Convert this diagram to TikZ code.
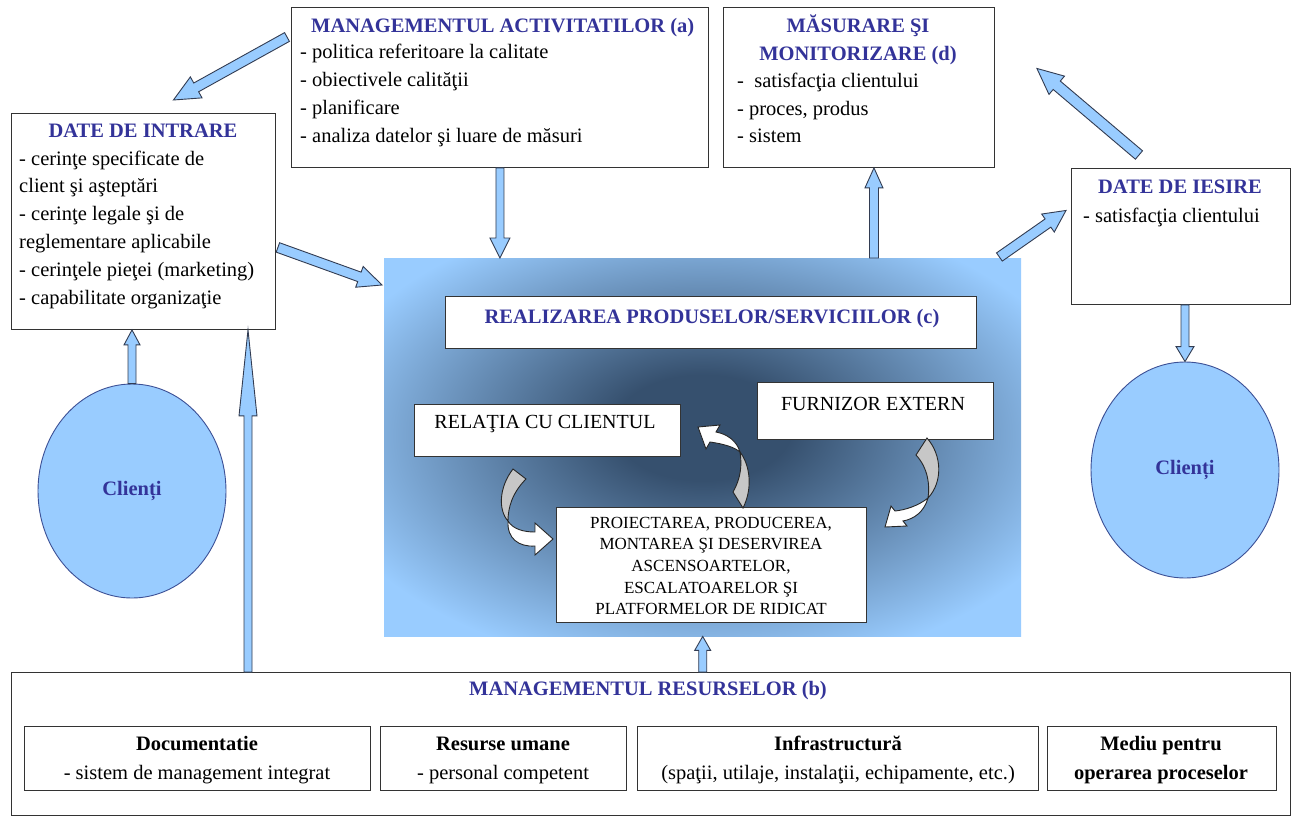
\documentclass[tikz,border=0pt]{standalone}
\usepackage{fontspec}
\setmainfont{Liberation Serif}
\usetikzlibrary{calc,shapes.geometric}

\definecolor{ttl}{RGB}{51,51,153}
\definecolor{skyfill}{RGB}{153,204,255}
\definecolor{arrline}{RGB}{50,60,82}
\definecolor{rdark}{RGB}{54,80,110}
\definecolor{rlight}{RGB}{153,204,255}
\definecolor{ellline}{RGB}{60,80,150}

\pgfdeclareradialshading{regionglow}{\pgfpoint{0bp}{3bp}}{color(0bp)=(rdark); color(7bp)=(rdark); color(31bp)=(rlight); color(50bp)=(rlight)}

\newcommand{\fb}{\fontsize{20.5}{24}\selectfont}
\newcommand{\ft}{\fontsize{20.5}{24}\selectfont\bfseries}
\newcommand{\fsm}{\fontsize{17}{21.7}\selectfont}

% rectangle node by its top-left corner and size
\newcommand{\boxat}[5]{\node[box, minimum width=#4pt, minimum height=#5pt] (#1) at (#2,#3) {};}

% block arrow: start, end, shaft half width, head half width, head length
\newcommand{\blockarrow}[5]{%
  \path ($(#2)!#5!(#1)$) coordinate (hb);
  \filldraw[blockarr] ($(#1)!#3!90:(#2)$) -- ($(hb)!#3!90:(#2)$) -- ($(hb)!#4!90:(#2)$) -- (#2)
    -- ($(hb)!#4!-90:(#2)$) -- ($(hb)!#3!-90:(#2)$) -- ($(#1)!#3!-90:(#2)$) -- cycle;}

\begin{document}
\begin{tikzpicture}[x=1pt,y=-1pt,
  box/.style={draw=black!80, line width=0.9pt, fill=white, inner sep=0pt, anchor=north west},
  blockarr/.style={fill=skyfill, draw=arrline, line width=0.9pt, line join=miter},
  cgray/.style={fill=black!22, draw=black!85, line width=0.9pt},
  cwhite/.style={fill=white, draw=black!85, line width=0.9pt},
  txt/.style={inner sep=0pt, font=\fb},
  ttlsty/.style={inner sep=0pt, font=\ft, text=ttl},
  hd/.style={inner sep=0pt, font=\ft}]

\useasboundingbox (0,0) rectangle (1297,816);
\fill[white] (0,0) rectangle (1297,816);

% central realisation area
\node[shading=regionglow, minimum width=637pt, minimum height=378pt, inner sep=0pt, anchor=north west] (region) at (384,258) {};

% boxes
\boxat{boxA}{291}{7}{417}{160}
\boxat{boxD}{723}{7}{271}{160}
\boxat{boxIn}{11}{113}{264}{216}
\boxat{boxOut}{1071}{168}{219}{136}
\boxat{boxC}{445}{296}{531}{52}
\boxat{boxRel}{414}{404}{266}{52}
\boxat{boxFur}{757}{382}{236}{57}
\boxat{boxP}{556}{507}{310}{115}
\boxat{boxB}{11}{672}{1279}{143}
\boxat{bDoc}{24}{726}{346}{64}
\boxat{bRes}{380}{726}{246}{64}
\boxat{bInf}{637}{726}{401}{64}
\boxat{bMed}{1047}{726}{229}{64}

% clients
\node[ellipse, draw=ellline, line width=0.9pt, fill=skyfill, minimum width=188pt, minimum height=214pt, inner sep=0pt, font=\ft, text=ttl] (clL) at (132,491) {Clienți};
\node[ellipse, draw=ellline, line width=0.9pt, fill=skyfill, minimum width=188pt, minimum height=216pt, inner sep=0pt, font=\ft, text=ttl] (clR) at (1185,470) {Clienți};

% activity management
\node[ttlsty, anchor=mid west] (tA) at (311,30) {MANAGEMENTUL ACTIVITATILOR (a)};
\foreach \itm [count=\i] in {{- politica referitoare la calitate},{- obiectivele calităţii},{- planificare},{- analiza datelor şi luare de măsuri}}
  \node[txt, anchor=mid west] (ia\i) at (300,{28+28*\i}) {\itm};

% measurement and monitoring
\node[ttlsty, anchor=mid] (tD1) at (858,30) {MĂSURARE ŞI};
\node[ttlsty, anchor=mid] (tD2) at (858,58) {MONITORIZARE (d)};
\foreach \itm [count=\i] in {{-\ \ satisfacţia clientului},{- proces, produs},{- sistem}}
  \node[txt, anchor=mid west] (id\i) at (737,{58+27.5*\i}) {\itm};

% inputs
\node[ttlsty, anchor=mid] (tIn) at (143,135) {DATE DE INTRARE};
\foreach \itm [count=\i] in {{- cerinţe specificate de},{client şi aşteptări},{- cerinţe legale şi de},{reglementare aplicabile},{- cerinţele pieţei (marketing)},{- capabilitate organizaţie}}
  \node[txt, anchor=mid west] (ii\i) at (19,{135+27.8*\i}) {\itm};

% outputs
\node[ttlsty, anchor=mid] (tOut) at (1180,191) {DATE DE IESIRE};
\node[txt, anchor=mid west] (io1) at (1083,220) {- satisfacţia clientului};

% realisation
\node[ttlsty, anchor=mid] (tC) at (712,321) {REALIZAREA PRODUSELOR/SERVICIILOR (c)};
\node[inner sep=0pt, font=\fontsize{20}{24}\selectfont, anchor=mid] (tRel) at (545,426) {RELAŢIA CU CLIENTUL};
\node[inner sep=0pt, font=\fontsize{20}{24}\selectfont, anchor=mid] (tFur) at (873,408) {FURNIZOR EXTERN};
\node[inner sep=0pt, font=\fsm, align=center] (tP) at (711,566) {PROIECTAREA, PRODUCEREA,\\MONTAREA ŞI DESERVIREA\\ASCENSOARTELOR,\\ESCALATOARELOR ŞI\\PLATFORMELOR DE RIDICAT};

% resources
\node[ttlsty, anchor=mid] (tB) at (648,693) {MANAGEMENTUL RESURSELOR (b)};
\node[hd, anchor=mid] (hDoc) at (197,748) {Documentatie};
\node[txt, anchor=mid] (sDoc) at (197,777) {- sistem de management integrat};
\node[hd, anchor=mid] (hRes) at (503,748) {Resurse umane};
\node[txt, anchor=mid] (sRes) at (503,777) {- personal competent};
\node[hd, anchor=mid] (hInf) at (838,748) {Infrastructură};
\node[txt, anchor=mid] (sInf) at (838,777) {(spaţii, utilaje, instalaţii, echipamente, etc.)};
\node[hd, anchor=mid] (hMed) at (1161,748) {Mediu pentru};
\node[hd, anchor=mid] (sMed) at (1161,777) {operarea proceselor};

% block arrows
\coordinate (a1s) at ($(boxA.north west)+(-4,30)$);
\coordinate (a1e) at ($(boxIn.north)+(30,-13)$);
\blockarrow{a1s}{a1e}{5pt}{12pt}{26pt}

\coordinate (a2e) at (boxA.south |- region.north);
\blockarrow{boxA.south}{a2e}{4pt}{10pt}{20pt}

\coordinate (a3s) at ($(boxIn.east)+(2,26)$);
\coordinate (a3e) at ($(region.north west)+(-2,27)$);
\blockarrow{a3s}{a3e}{5pt}{11pt}{24pt}

\coordinate (a4e) at ($(boxD.south)+(15,0)$);
\coordinate (a4s) at (a4e |- region.north);
\blockarrow{a4s}{a4e}{4.5pt}{9pt}{20pt}

\coordinate (a5s) at ($(region.north east)+(-22,-1)$);
\coordinate (a5e) at ($(boxOut.west)+(-5,-26)$);
\blockarrow{a5s}{a5e}{5pt}{11pt}{22pt}

\coordinate (a6s) at ($(boxOut.north)+(-42,-13)$);
\coordinate (a6e) at ($(boxD.east)+(42,-19)$);
\blockarrow{a6s}{a6e}{5.5pt}{12pt}{26pt}

\coordinate (a7s) at (boxOut.south -| clR.north);
\blockarrow{a7s}{clR.north}{4pt}{9pt}{15pt}

\coordinate (a8e) at (boxIn.south -| clL.north);
\blockarrow{clL.north}{a8e}{4pt}{8pt}{15pt}

\coordinate (a9s) at ($(boxB.north west)+(237,0)$);
\coordinate (a9e) at (boxIn.south -| a9s);
\blockarrow{a9s}{a9e}{4pt}{9pt}{86pt}

\coordinate (a10s) at (boxB.north -| region.south);
\blockarrow{a10s}{region.south}{4pt}{8pt}{14pt}

% curved arrows inside the realisation area
\filldraw[cgray] (513,469) -- (526,479) .. controls (512,493) and (508,508) .. (508,521) .. controls (498,510) and (499,487) .. cycle;
\filldraw[cwhite] (508,521) .. controls (513,529) and (523,532) .. (535,532) -- (535,523) -- (553,539) -- (535,555) -- (535,546) .. controls (519,547) and (507,539) .. cycle;

\filldraw[cgray] (743,508) -- (733,492) .. controls (741,478) and (742,465) .. (740,452) .. controls (750,465) and (753,488) .. cycle;
\filldraw[cwhite] (740,452) .. controls (737,441) and (727,434) .. (716,432) -- (720,425) -- (698,427) -- (706,449) -- (710,442) .. controls (724,444) and (734,447) .. cycle;

\filldraw[cgray] (927,438) .. controls (942,455) and (943,482) .. (928,498) .. controls (930,485) and (928,468) .. (916,455) -- cycle;
\filldraw[cwhite] (928,498) .. controls (918,506) and (905,510) .. (895,511) -- (891,506) -- (885,527) -- (907,526) -- (903,521) .. controls (914,519) and (924,512) .. cycle;

\end{tikzpicture}
\end{document}
